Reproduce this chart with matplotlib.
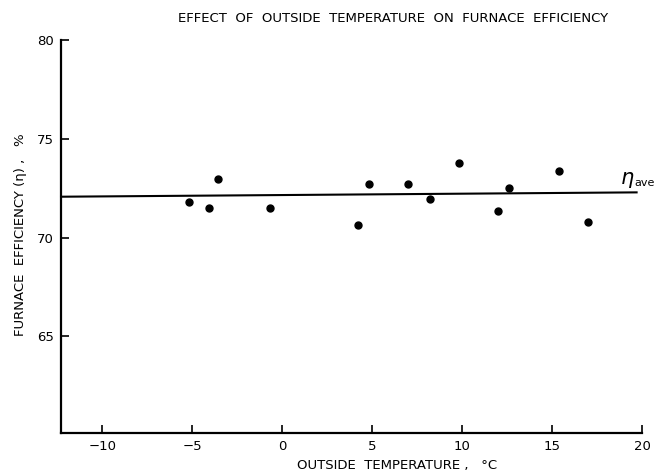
import matplotlib.pyplot as plt

# outside temperature (C) and furnace efficiency (%)
temps = [-5.2, -4.1, -3.6, -0.7, 4.2, 4.8, 7.0, 8.2, 9.8, 12.0, 12.6, 15.4, 17.0]
effic = [71.8, 71.5, 73.0, 71.5, 70.65, 72.7, 72.7, 71.95, 73.8, 71.35, 72.5, 73.4, 70.8]

# average efficiency line (slightly tilted in the scan)
ave_x = [-12.3, 19.7]
ave_y = [72.08, 72.3]

xticks = [-10, -5, 0, 5, 10, 15, 20]
yticks = [65, 70, 75, 80]

fig = plt.figure(figsize=(6.67, 4.75), dpi=100)
ax = fig.add_axes([0.0915, 0.088, 0.871, 0.827])

ax.plot(ave_x, ave_y, color='black', lw=1.5, clip_on=False)
ax.plot(temps, effic, 'o', color='black', ms=5, clip_on=False)

ax.set_xlim(-12.3, 20)
ax.set_ylim(60.1, 80)
ax.set_xticks(xticks)
ax.set_xticklabels(['\u221210', '\u22125', '0', '5', '10', '15', '20'])
ax.set_yticks(yticks)

for s in ['top', 'right']:
    ax.spines[s].set_visible(False)
for s in ['left', 'bottom']:
    ax.spines[s].set_linewidth(1.6)

ax.tick_params(direction='in', length=5.5, width=1.2, labelsize=9.5, pad=5)

ax.text(19.2, 72.95, r'$\eta$', fontsize=15, ha='center', va='center')
ax.text(19.6, 72.75, 'ave', fontsize=8, ha='left', va='center')

fig.text(0.59, 0.96, 'EFFECT  OF  OUTSIDE  TEMPERATURE  ON  FURNACE  EFFICIENCY',
         ha='center', va='center', fontsize=9.5)
fig.text(0.595, 0.021, 'OUTSIDE  TEMPERATURE ,   \u00b0C', ha='center', va='center', fontsize=9.5)
fig.text(0.03, 0.505, 'FURNACE  EFFICIENCY (\u03b7) ,   %', rotation=90,
         ha='center', va='center', fontsize=9.5)

fig.savefig('out.png', dpi=100)
